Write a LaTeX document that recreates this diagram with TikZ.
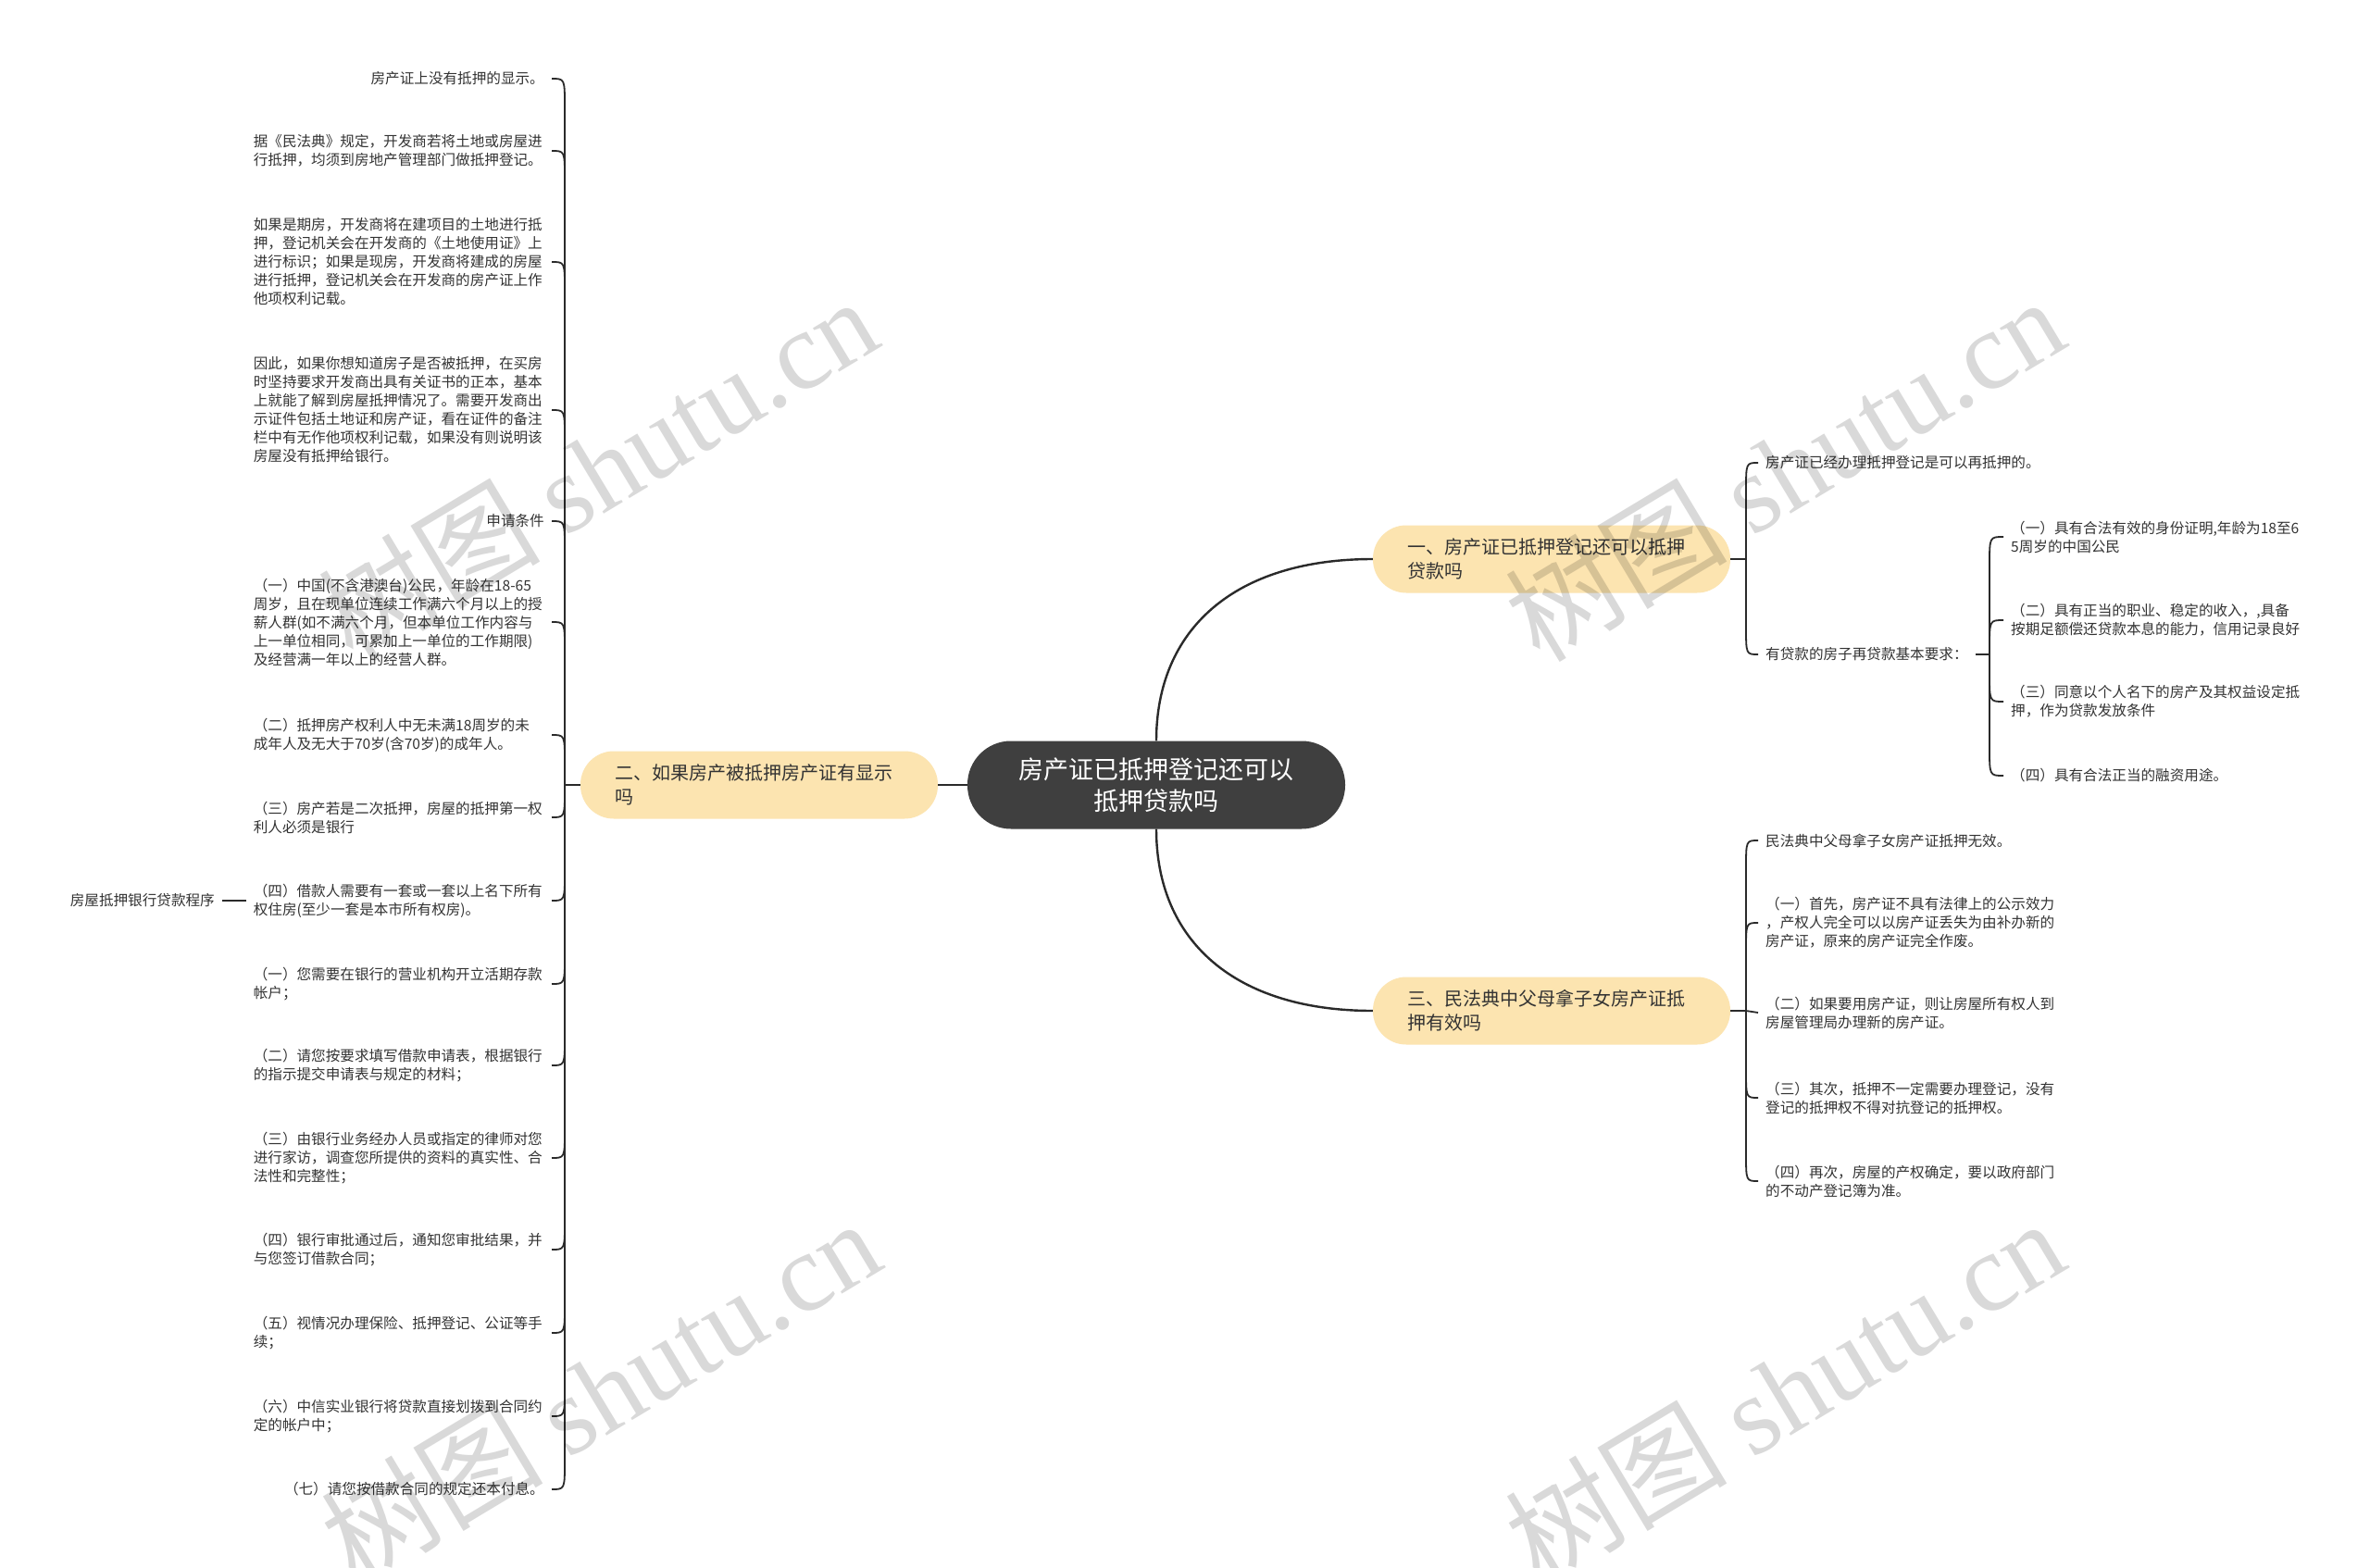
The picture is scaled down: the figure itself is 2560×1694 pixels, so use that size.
\documentclass[tikz,border=0pt]{standalone}
\usepackage{fontspec}
\setmainfont{Noto Sans CJK SC}
\newfontfamily\wmlatin{Liberation Serif}
\usetikzlibrary{calc}
\definecolor{rootc}{HTML}{3F3F3F}
\definecolor{lvlc}{HTML}{FCE4B0}
\definecolor{txtc}{HTML}{333333}
\definecolor{linec}{HTML}{2A2A2A}
\tikzset{
  rootnode/.style={fill=rootc, text=white, rounded corners=47pt, minimum width=408pt, minimum height=95pt, align=center, inner sep=0pt, font=\fontsize{27}{34}\selectfont},
  lvlnode/.style={fill=lvlc, text=txtc, rounded corners=36pt, minimum height=73pt, text width=312pt, align=left, inner xsep=37pt, inner ysep=0pt, font=\fontsize{20}{26}\selectfont},
  leafL/.style={anchor=east, align=left, text=txtc, inner xsep=8pt, inner ysep=2pt, font=\fontsize{15.6}{20}\selectfont},
  leafLw/.style={leafL, text width=314pt},
  leafR/.style={anchor=west, align=left, text=txtc, inner xsep=8pt, inner ysep=2pt, font=\fontsize{15.6}{20}\selectfont},
  mainline/.style={draw=linec, line width=2.4pt},
  conn/.style={draw=linec, line width=1.8pt},
  wmark/.style={text=black, text opacity=0.15, rotate=31, inner sep=0pt}
}
\newcommand\brc[3]{\draw[conn] (#1) -- ($(#1 |- #2)+(0,#3)$) .. controls (#1 |- #2) .. (#2);}
\begin{document}
\begin{tikzpicture}[x=1pt,y=-1pt]
\useasboundingbox (0,0) rectangle (2560,1694);
\fill[white] (0,0) rectangle (2560,1694);

% root and main branches
\node[rootnode] (root) at (1249,848) {房产证已抵押登记还可以\\抵押贷款吗};
\node[lvlnode] (n1) at (1676,604) {一、房产证已抵押登记还可以抵押\\贷款吗};
\node[lvlnode] (n2) at (820,848) {二、如果房产被抵押房产证有显示\\吗};
\node[lvlnode] (n3) at (1676,1092) {三、民法典中父母拿子女房产证抵\\押有效吗};

\draw[mainline] (root.west) -- (n2.east);
\draw[mainline] (root.north) .. controls ($(root.north)+(0,-120)$) and ($(n1.west)+(-150,0)$) .. (n1.west);
\draw[mainline] (root.south) .. controls ($(root.south)+(0,120)$) and ($(n3.west)+(-150,0)$) .. (n3.west);

% left branch
\coordinate (jL) at (610,848);
\draw[conn] (n2.west) -- (jL);
\node[leafL] (c1) at (596,85) {房产证上没有抵押的显示。};
\node[leafLw] (c2) at (596,163) {据《民法典》规定，开发商若将土地或房屋进\\行抵押，均须到房地产管理部门做抵押登记。};
\node[leafLw] (c3) at (596,283) {如果是期房，开发商将在建项目的土地进行抵\\押，登记机关会在开发商的《土地使用证》上\\进行标识；如果是现房，开发商将建成的房屋\\进行抵押，登记机关会在开发商的房产证上作\\他项权利记载。};
\node[leafLw] (c4) at (596,443) {因此，如果你想知道房子是否被抵押，在买房\\时坚持要求开发商出具有关证书的正本，基本\\上就能了解到房屋抵押情况了。需要开发商出\\示证件包括土地证和房产证，看在证件的备注\\栏中有无作他项权利记载，如果没有则说明该\\房屋没有抵押给银行。};
\node[leafL] (c5) at (596,563) {申请条件};
\node[leafLw] (c6) at (596,672) {（一）中国(不含港澳台)公民，年龄在18-65\\周岁，且在现单位连续工作满六个月以上的授\\薪人群(如不满六个月，但本单位工作内容与\\上一单位相同，可累加上一单位的工作期限)\\及经营满一年以上的经营人群。};
\node[leafLw] (c7) at (596,794) {（二）抵押房产权利人中无未满18周岁的未\\成年人及无大于70岁(含70岁)的成年人。};
\node[leafLw] (c8) at (596,883) {（三）房产若是二次抵押，房屋的抵押第一权\\利人必须是银行};
\node[leafLw] (c9) at (596,973) {（四）借款人需要有一套或一套以上名下所有\\权住房(至少一套是本市所有权房)。};
\node[leafLw] (c10) at (596,1063) {（一）您需要在银行的营业机构开立活期存款\\帐户；};
\node[leafLw] (c11) at (596,1151) {（二）请您按要求填写借款申请表，根据银行\\的指示提交申请表与规定的材料；};
\node[leafLw] (c12) at (596,1251) {（三）由银行业务经办人员或指定的律师对您\\进行家访，调查您所提供的资料的真实性、合\\法性和完整性；};
\node[leafLw] (c13) at (596,1350) {（四）银行审批通过后，通知您审批结果，并\\与您签订借款合同；};
\node[leafLw] (c14) at (596,1440) {（五）视情况办理保险、抵押登记、公证等手\\续；};
\node[leafLw] (c15) at (596,1530) {（六）中信实业银行将贷款直接划拨到合同约\\定的帐户中；};
\node[leafL] (c16) at (596,1609) {（七）请您按借款合同的规定还本付息。};
\node[leafL] (gL) at (240,973) {房屋抵押银行贷款程序};
\draw[conn] (c9.west) -- (gL.east);

\brc{jL}{c1.east}{30}
\brc{jL}{c2.east}{30}
\brc{jL}{c3.east}{30}
\brc{jL}{c4.east}{30}
\brc{jL}{c5.east}{30}
\brc{jL}{c6.east}{30}
\brc{jL}{c7.east}{30}
\brc{jL}{c8.east}{-30}
\brc{jL}{c9.east}{-30}
\brc{jL}{c10.east}{-30}
\brc{jL}{c11.east}{-30}
\brc{jL}{c12.east}{-30}
\brc{jL}{c13.east}{-30}
\brc{jL}{c14.east}{-30}
\brc{jL}{c15.east}{-30}
\brc{jL}{c16.east}{-30}

% branch one
\coordinate (jA) at (1886,604);
\draw[conn] (n1.east) -- (jA);
\node[leafR] (r1) at (1899,500) {房产证已经办理抵押登记是可以再抵押的。};
\node[leafR] (r2) at (1899,707) {有贷款的房子再贷款基本要求：};
\brc{jA}{r1.west}{30}
\brc{jA}{r2.west}{-30}

\coordinate (jG) at (2149,707);
\draw[conn] (r2.east) -- (jG);
\node[leafR] (g1) at (2164,580) {（一）具有合法有效的身份证明,年龄为18至6\\5周岁的中国公民};
\node[leafR] (g2) at (2164,670) {（二）具有正当的职业、稳定的收入，,具备\\按期足额偿还贷款本息的能力，信用记录良好};
\node[leafR] (g3) at (2164,758) {（三）同意以个人名下的房产及其权益设定抵\\押，作为贷款发放条件};
\node[leafR] (g4) at (2164,838) {（四）具有合法正当的融资用途。};
\brc{jG}{g1.west}{30}
\brc{jG}{g2.west}{30}
\brc{jG}{g3.west}{-30}
\brc{jG}{g4.west}{-30}

% branch three
\coordinate (jB) at (1886,1092);
\draw[conn] (n3.east) -- (jB);
\node[leafR] (s1) at (1899,908) {民法典中父母拿子女房产证抵押无效。};
\node[leafR] (s2) at (1899,997) {（一）首先，房产证不具有法律上的公示效力\\，产权人完全可以以房产证丢失为由补办新的\\房产证，原来的房产证完全作废。};
\node[leafR] (s3) at (1899,1094) {（二）如果要用房产证，则让房屋所有权人到\\房屋管理局办理新的房产证。};
\node[leafR] (s4) at (1899,1186) {（三）其次，抵押不一定需要办理登记，没有\\登记的抵押权不得对抗登记的抵押权。};
\node[leafR] (s5) at (1899,1276) {（四）再次，房屋的产权确定，要以政府部门\\的不动产登记簿为准。};
\brc{jB}{s1.west}{30}
\brc{jB}{s2.west}{30}
\draw[conn] (jB) -- (s3.west);
\brc{jB}{s4.west}{-30}
\brc{jB}{s5.west}{-30}

% watermarks
\node[wmark] (w1) at (645,506) {\fontsize{120}{120}\selectfont 树图 {\wmlatin shutu.cn}};
\node[wmark] (w2) at (1927,506) {\fontsize{120}{120}\selectfont 树图 {\wmlatin shutu.cn}};
\node[wmark] (w3) at (648,1502) {\fontsize{120}{120}\selectfont 树图 {\wmlatin shutu.cn}};
\node[wmark] (w4) at (1927,1502) {\fontsize{120}{120}\selectfont 树图 {\wmlatin shutu.cn}};
\end{tikzpicture}
\end{document}
